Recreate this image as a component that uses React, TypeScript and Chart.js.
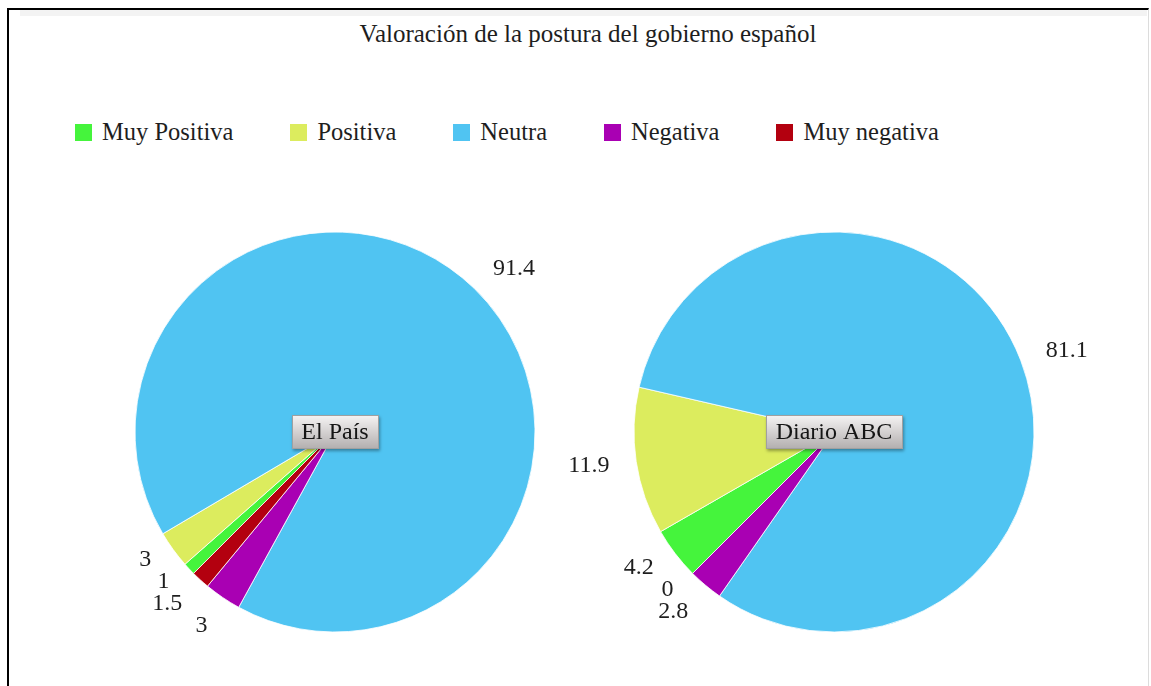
import React, { useEffect, useRef } from 'react';
import { Chart, registerables } from 'chart.js';

Chart.register(...registerables);

const TITLE = 'Valoración de la postura del gobierno español';
const categories = ['Muy Positiva', 'Positiva', 'Neutra', 'Negativa', 'Muy negativa'];
const sliceColors = ['#45f43c', '#dcec5e', '#50c4f2', '#a900b3', '#b3000f'];
const pieNames = ['El País', 'Diario ABC'];
const elPaisValues = [1, 3, 91.4, 3, 1.5];
const abcValues = [4.2, 11.9, 81.1, 2.8, 0];

const FONT = '"Liberation Serif", "Times New Roman", serif';
const LABEL_OFFSET = 27;
const LABEL_GAP = 22;

const valueLabelPlugin = {
  id: 'valueLabels',
  afterDatasetsDraw(chart: any) {
    const meta = chart.getDatasetMeta(0);
    const values = chart.data.datasets[0].data as number[];
    const ctx = chart.ctx as CanvasRenderingContext2D;
    const items = meta.data.map((arc: any, i: number) => {
      const p = arc.getProps(['x', 'y', 'startAngle', 'endAngle', 'outerRadius'], true);
      const mid = (p.startAngle + p.endAngle) / 2;
      const r = p.outerRadius + LABEL_OFFSET;
      const ny = p.y + Math.sin(mid) * r;
      return {
        text: String(values[i]),
        x: p.x + Math.cos(mid) * r,
        ny,
        y: ny,
        right: Math.cos(mid) >= 0,
      };
    });
    for (const side of [true, false]) {
      const group = items.filter((it: any) => it.right === side).sort((a: any, b: any) => a.ny - b.ny);
      const clusters: { items: any[]; y0: number }[] = [];
      for (const it of group) {
        clusters.push({ items: [it], y0: it.ny });
        while (clusters.length > 1) {
          const cur = clusters[clusters.length - 1];
          const prev = clusters[clusters.length - 2];
          if (prev.y0 + prev.items.length * LABEL_GAP > cur.y0) {
            const all = prev.items.concat(cur.items);
            const mean = all.reduce((s, a) => s + a.ny, 0) / all.length;
            clusters.splice(clusters.length - 2, 2, { items: all, y0: mean - ((all.length - 1) / 2) * LABEL_GAP });
          } else break;
        }
      }
      for (const c of clusters) {
        c.items.forEach((it, k) => {
          it.y = c.y0 + k * LABEL_GAP;
        });
      }
    }
    ctx.save();
    ctx.font = `24px ${FONT}`;
    ctx.fillStyle = '#1e1e1e';
    ctx.textBaseline = 'middle';
    for (const it of items) {
      ctx.textAlign = it.right ? 'left' : 'right';
      ctx.fillText(it.text, it.x, it.y);
    }
    ctx.restore();
  },
};

const centerBoxPlugin = {
  id: 'centerBox',
  afterDraw(chart: any, _args: any, opts: any) {
    const text = opts.text as string;
    const ctx = chart.ctx as CanvasRenderingContext2D;
    const ca = chart.chartArea;
    const cx = (ca.left + ca.right) / 2;
    const cy = (ca.top + ca.bottom) / 2;
    ctx.save();
    ctx.font = `24px ${FONT}`;
    const w = Math.round(ctx.measureText(text).width + 20);
    const h = 34;
    const x = Math.round(cx - w / 2);
    const y = Math.round(cy - h / 2);
    ctx.shadowColor = 'rgba(0,0,0,0.35)';
    ctx.shadowBlur = 3;
    ctx.shadowOffsetX = 1;
    ctx.shadowOffsetY = 2;
    const g = ctx.createLinearGradient(0, y, 0, y + h);
    g.addColorStop(0, '#f6f4f4');
    g.addColorStop(1, '#b2aeae');
    ctx.fillStyle = g;
    ctx.fillRect(x, y, w, h);
    ctx.shadowColor = 'transparent';
    ctx.strokeStyle = '#a0a0a0';
    ctx.lineWidth = 1;
    ctx.strokeRect(x + 0.5, y + 0.5, w - 1, h - 1);
    ctx.fillStyle = '#151515';
    ctx.textAlign = 'center';
    ctx.textBaseline = 'middle';
    ctx.fillText(text, cx, cy + 1);
    ctx.restore();
  },
};

const SIZE = 560;

function PieChart({ name, values, cx, cy }: { name: string; values: number[]; cx: number; cy: number }) {
  const ref = useRef<HTMLCanvasElement | null>(null);
  useEffect(() => {
    if (!ref.current) return;
    const chart = new Chart(ref.current, {
      type: 'pie',
      data: {
        labels: categories,
        datasets: [
          {
            data: values,
            backgroundColor: sliceColors,
            borderColor: '#ffffff',
            borderWidth: 0.8,
          },
        ],
      },
      options: {
        responsive: false,
        animation: false,
        radius: 200,
        rotation: 225,
        layout: { padding: 0 },
        plugins: {
          legend: { display: false },
          title: { display: false },
          tooltip: { enabled: false },
          centerBox: { text: name },
        } as any,
      } as any,
      plugins: [valueLabelPlugin, centerBoxPlugin],
    });
    return () => chart.destroy();
  }, [name, values]);
  return (
    <canvas
      ref={ref}
      width={SIZE}
      height={SIZE}
      style={{
        position: 'absolute',
        left: cx - SIZE / 2,
        top: cy - SIZE / 2,
        width: SIZE,
        height: SIZE,
      }}
    />
  );
}

export default function App() {
  return (
    <div>
      <div
        style={{
          position: 'absolute',
          left: 7,
          top: 8,
          width: 1142,
          height: 678,
          boxSizing: 'border-box',
          borderLeft: '2px solid #000',
          borderTop: '2px solid #000',
          borderRight: '1px solid #dcdcdc',
        }}
      />
      <div style={{ position: 'absolute', left: 20, top: 10, width: 1127, height: 6, background: '#f3f3f3' }} />
      <div
        style={{
          position: 'absolute',
          left: 588,
          top: 21,
          transform: 'translateX(-50%)',
          whiteSpace: 'nowrap',
          font: `25px/25px ${FONT}`,
          color: '#1e1e1e',
        }}
      >
        {TITLE}
      </div>
      <div
        style={{
          position: 'absolute',
          left: 75,
          top: 120,
          display: 'flex',
          alignItems: 'center',
          whiteSpace: 'nowrap',
          font: `24.5px/24px ${FONT}`,
          color: '#1e1e1e',
        }}
      >
        {categories.map((c, i) => (
          <div key={c} style={{ display: 'flex', alignItems: 'center', marginRight: 57 }}>
            <span style={{ display: 'inline-block', width: 17, height: 17, background: sliceColors[i], marginRight: 10 }} />
            <span>{c}</span>
          </div>
        ))}
      </div>
      <PieChart name={pieNames[0]} values={elPaisValues} cx={335} cy={432} />
      <PieChart name={pieNames[1]} values={abcValues} cx={834} cy={432} />
    </div>
  );
}
